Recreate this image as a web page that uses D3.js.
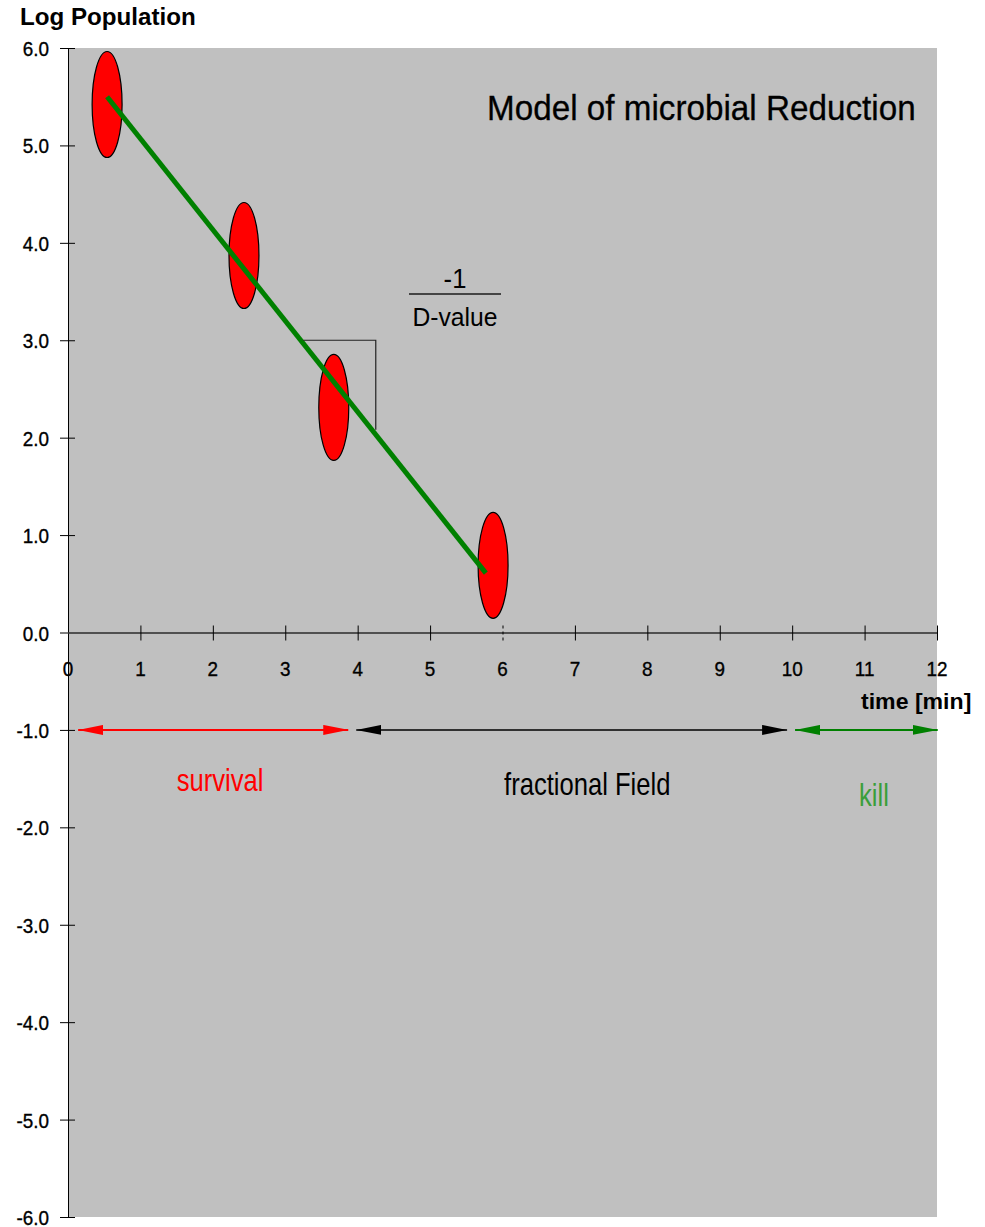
<!DOCTYPE html>
<html><head><meta charset="utf-8">
<script src="https://cdn.jsdelivr.net/npm/d3@7"></script>
<style>body{margin:0;background:#fff}svg{display:block}text{font-family:"Liberation Sans",Arial,sans-serif}</style>
</head><body>
<svg id="c" width="985" height="1227"></svg>
<script>
// ---- data ----
const xTicks = [0,1,2,3,4,5,6,7,8,9,10,11,12];
const yTicks = [6,5,4,3,2,1,0,-1,-2,-3,-4,-5,-6];
const samplesX = [0.54, 2.43, 3.67, 5.87];
const samplesY = [5.42, 3.87, 2.31, 0.69];
const fitX = [0.54, 5.77];
const fitY = [5.50, 0.61];
const bracketX = [3.25, 4.25, 4.25];
const bracketY = [3.0, 3.0, 2.08];
const zoneNames = ["survival", "fractional Field", "kill"];
const zoneStart = [0.14, 3.98, 10.04];
const zoneEnd = [3.87, 9.93, 12.01];
const zoneColors = ["#ff0000", "#000000", "#008000"];
const zoneTextColors = ["#ff0000", "#000000", "#3a9e3a"];
const zoneLabelX = [2.10, 7.17, 11.13];
const zoneLabelY = [-1.63, -1.67, -1.78];
const arrowLevel = -1.0;

// ---- scales ----
const svg = d3.select("#c");
const x = d3.scaleLinear().domain([0,12]).range([68,937]);
const y = d3.scaleLinear().domain([-6,6]).range([1217,48]);
const fmtY = v => d3.format(".1f")(v).replace("\u2212","-");

svg.append("rect").attr("x",x(0)).attr("y",y(6)).attr("width",x(12)-x(0)).attr("height",y(-6)-y(6)).attr("fill","#c0c0c0");

function txt(s, px, py, size, sx, anchor, color, weight){
  const g = svg.append("g").attr("transform",`translate(${px},${py}) scale(${sx},1)`);
  return g.append("text").text(s).attr("font-size",size).attr("text-anchor",anchor||"start")
    .attr("fill",color||"#000").attr("font-weight",weight||"normal");
}

// y axis
const yAxis = d3.axisLeft(y).tickValues(yTicks).tickSize(0).tickFormat(fmtY);
const ya = svg.append("g").attr("transform",`translate(${x(0)},0)`).call(yAxis);
ya.select(".domain").attr("stroke","#000").attr("stroke-width",1);
ya.selectAll(".tick text").remove();
ya.selectAll(".tick line").attr("x1",-8).attr("x2",7).attr("stroke","#000");
yTicks.forEach(v=>{
  txt(fmtY(v), 49, y(v)+8, 21, 0.9, "end", "#000").attr("stroke","#000").attr("stroke-width",0.35);
});

// x axis at y=0
const xAxis = d3.axisBottom(x).tickValues(xTicks).tickSize(0).tickFormat(d3.format("d"));
const xa = svg.append("g").attr("transform",`translate(0,${y(0)})`).call(xAxis);
xa.select(".domain").attr("stroke","#505050").attr("stroke-width",2);
xa.selectAll(".tick text").remove();
xa.selectAll(".tick line").attr("y1",-7).attr("y2",8).attr("stroke","#000")
  .attr("stroke-dasharray",d=>d===6?"3,3":null).attr("opacity",d=>d===0?0:1);
xTicks.forEach(v=>{
  txt(String(v), x(v), 676, 21, 0.9, "middle", "#000").attr("stroke","#000").attr("stroke-width",0.35);
});

// ellipses
const rx = x(0.207)-x(0), ry = y(0)-y(0.544);
svg.selectAll("ellipse.s").data(samplesX).join("ellipse").attr("class","s")
  .attr("cx",d=>x(d)).attr("cy",(d,i)=>y(samplesY[i]))
  .attr("rx",rx).attr("ry",ry).attr("fill","#ff0000").attr("stroke","#000").attr("stroke-width",1.2);

// fit line
svg.append("line").attr("x1",x(fitX[0])).attr("y1",y(fitY[0])).attr("x2",x(fitX[1])).attr("y2",y(fitY[1]))
  .attr("stroke","#008000").attr("stroke-width",5);

// slope bracket
svg.append("path").attr("d",d3.line().x(d=>x(d[0])).y(d=>y(d[1]))(bracketX.map((v,i)=>[v,bracketY[i]])))
  .attr("fill","none").attr("stroke","#222").attr("stroke-width",1.2);

// -1 / D-value
txt("-1", 455, 288, 27, 0.95, "middle", "#000");
svg.append("line").attr("x1",409).attr("x2",501).attr("y1",294).attr("y2",294).attr("stroke","#444").attr("stroke-width",2);
txt("D-value", 455, 326, 26, 0.95, "middle", "#000");

// title
txt("Model of microbial Reduction", 487, 120, 35, 0.95, "start", "#000").attr("stroke","#000").attr("stroke-width",0.3);

// axis titles
txt("Log Population", 20, 25, 23, 1.05, "start", "#000", "bold");
txt("time [min]", 861, 709, 22, 1.05, "start", "#000", "bold");

// arrows
const defs = svg.append("defs");
zoneColors.forEach((c,i)=>{
  defs.append("marker").attr("id","a"+i).attr("viewBox","0 0 25 10").attr("refX",25).attr("refY",5)
    .attr("markerWidth",25).attr("markerHeight",10).attr("markerUnits","userSpaceOnUse").attr("orient","auto-start-reverse")
    .append("path").attr("d","M0,0L25,5L0,10Z").attr("fill",c);
});
svg.selectAll("line.zone").data(zoneStart).join("line").attr("class","zone")
  .attr("x1",d=>x(d)).attr("x2",(d,i)=>x(zoneEnd[i])).attr("y1",y(arrowLevel)).attr("y2",y(arrowLevel))
  .attr("stroke",(d,i)=>zoneColors[i]).attr("stroke-width",(d,i)=>i===1?1.5:2)
  .attr("marker-start",(d,i)=>`url(#a${i})`).attr("marker-end",(d,i)=>`url(#a${i})`);

zoneNames.forEach((n,i)=>{
  txt(n, x(zoneLabelX[i]), y(zoneLabelY[i]), 32, 0.8, "middle", zoneTextColors[i]);
});
</script>
</body></html>
